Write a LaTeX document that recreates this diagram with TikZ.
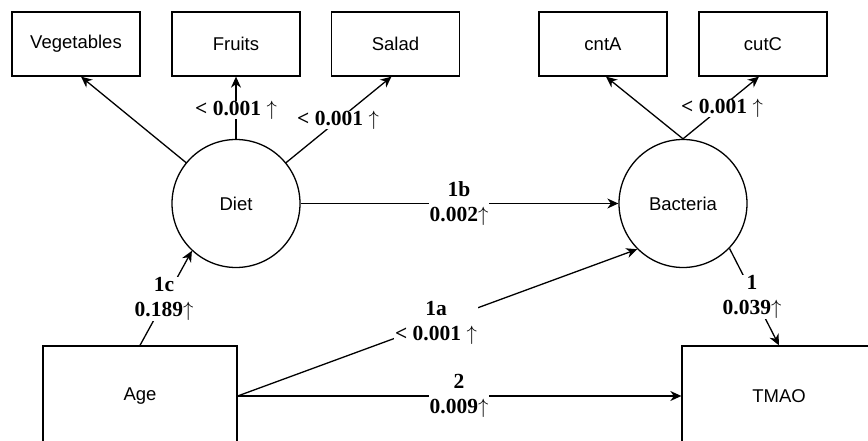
\documentclass[tikz,border=0pt]{standalone}
\usepackage{fontspec}
\setmainfont{Liberation Serif}
\setsansfont{Liberation Sans}
\usetikzlibrary{arrows.meta}
\newcommand{\upar}{\ensuremath{\uparrow}}
\begin{document}
\begin{tikzpicture}[x=1pt,y=-1pt,
  box/.style={draw,line width=1.3pt,minimum width=128pt,minimum height=64pt,inner sep=0pt,font=\sffamily\fontsize{18.5}{22}\selectfont},
  bigbox/.style={draw,line width=1.3pt,minimum width=194pt,minimum height=100pt,inner sep=0pt,font=\sffamily\fontsize{18.5}{22}\selectfont},
  latent/.style={draw,circle,line width=1.3pt,minimum size=128pt,inner sep=0pt,font=\sffamily\fontsize{18.5}{22}\selectfont},
  arr/.style={line width=1.3pt,-{Stealth[length=11pt,width=10pt,inset=3.5pt]}},
  lbl/.style={fill=white,inner xsep=1pt,inner ysep=0pt,align=center,font=\fontsize{21.5}{25}\selectfont\bfseries}]
\path[use as bounding box,clip] (0,0) rectangle (868,441);
\fill[white] (0,0) rectangle (868,441);
% nodes
\node[box] (veg) at (76,44) {Vegetables};
\node[box] (fruits) at (236,44) {Fruits};
\node[box] (salad) at (395.5,44) {Salad};
\node[box] (cnta) at (603,44) {cntA};
\node[box] (cutc) at (763,44) {cutC};
\node[latent] (diet) at (236,203.5) {Diet};
\node[latent] (bact) at (683,203.5) {Bacteria};
\node[bigbox] (age) at (140,396) {Age};
\node[bigbox] (tmao) at (779,396) {TMAO};
% connectors
\draw[arr] (diet) -- ([xshift=5pt]veg.south);
\draw[arr] (diet.north) -- (fruits.south);
\draw[arr] (diet) -- ([xshift=-4pt]salad.south);
\draw[arr] (bact.north) -- ([xshift=3pt]cnta.south);
\draw[arr] (bact.north) -- ([xshift=-4pt]cutc.south);
\draw[arr] (diet.east) -- (bact.west);
\draw[arr] (age.north) -- (diet.227);
\draw[arr] (age.east) -- (bact.225);
\draw[arr] (age.east) -- (tmao.west);
\draw[arr] (bact.316) -- (tmao.north);
% labels
\node[lbl] (lf) at (236,110) {< 0.001 \upar};
\node[lbl] (ls) at (338,120) {< 0.001 \upar};
\node[lbl] (lc) at (722,108) {< 0.001 \upar};
\node[lbl] (l1b) at (459,204) {1b\\0.002\upar};
\node[lbl] (l1c) at (164,299) {1c\\0.189\upar};
\node[lbl] (l1a) at (436,323) {1a\\< 0.001 \upar};
\node[lbl] (l2) at (459,396) {2\\0.009\upar};
\node[lbl] (l1) at (752,297) {1\\0.039\upar};
\end{tikzpicture}
\end{document}
